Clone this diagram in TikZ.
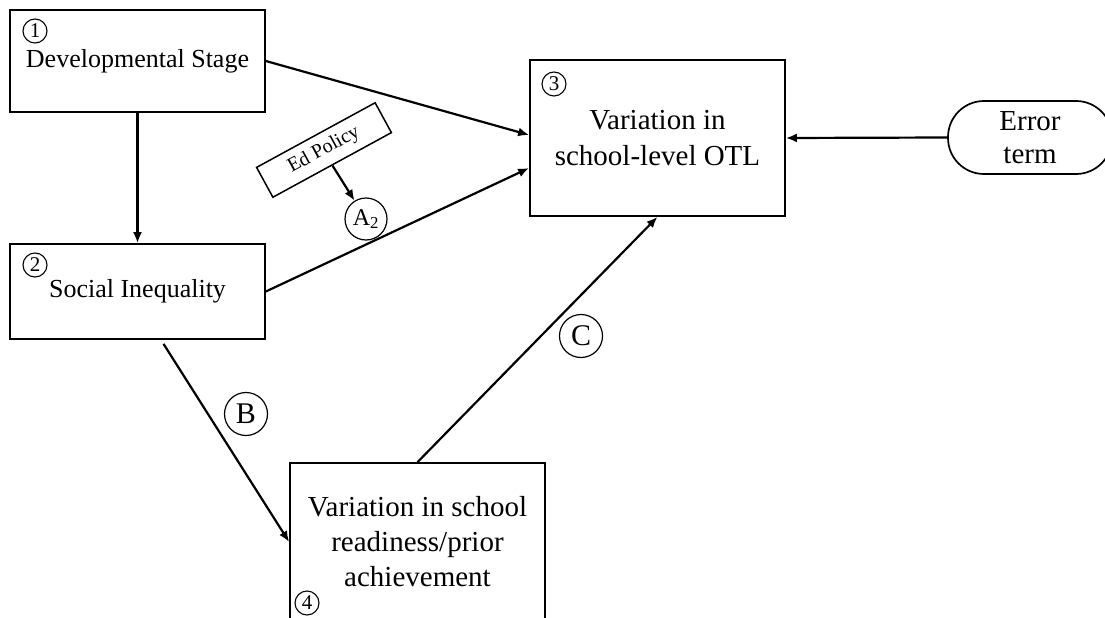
\documentclass[tikz,border=0pt]{standalone}
\usepackage{fontspec}
\setmainfont{Liberation Serif}
\usetikzlibrary{arrows.meta,calc}
\begin{document}
\begin{tikzpicture}[x=1pt,y=-1pt,
 box/.style={draw,line width=1.7pt,minimum width=255pt,inner sep=0pt,align=center},
 conn/.style={line width=2.2pt,-{Latex[length=11pt,width=9pt]}},
 num/.style={circle,draw,line width=1.1pt,minimum size=24pt,inner sep=0pt,font=\fontsize{21}{21}\selectfont},
 lab/.style={circle,draw,line width=1.2pt,minimum size=43pt,inner sep=0pt,font=\fontsize{30}{30}\selectfont}]
\useasboundingbox (0,0) rectangle (1105,618);
\node[box,minimum height=102pt,font=\fontsize{26}{30}\selectfont] (b1) at (137.5,61) {Developmental Stage};
\node[num] (n1) at (35,31) {1};
\node[box,minimum height=95pt,font=\fontsize{26}{30}\selectfont] (b2) at (137.5,291.5) {Social Inequality};
\node[num] (n2) at (35,265) {2};
\node[box,minimum height=156pt,font=\fontsize{29}{36}\selectfont] (b3) at (657.5,138) {Variation in\\school-level OTL};
\node[num] (n3) at (554,84) {3};
\node[box,minimum height=158pt,font=\fontsize{29}{35}\selectfont] (b4) at (417.5,542) {Variation in school\\readiness/prior\\achievement};
\node[num] (n4) at (307,603) {4};
\node[draw,line width=1.7pt,rounded corners=36pt,minimum width=164pt,minimum height=73pt,align=center,inner sep=0pt,font=\fontsize{29}{33}\selectfont] (err) at (1030,137.5) {Error\\term};
\node[draw,line width=1.5pt,minimum width=135pt,minimum height=34pt,rotate=28.6,font=\fontsize{20}{20}\selectfont] (ed) at (324,150) {Ed Policy};
\node[lab,minimum size=42pt,font=\fontsize{24}{24}\selectfont] (a2) at (366,219) {A\textsubscript{2}};
\node[lab] (lb) at (246,414) {B};
\node[lab] (lc) at (581,336) {C};
\draw[conn] (b1.east) -- ([yshift=3pt]b3.west);
\draw[conn] (b1.south) -- (b2.north);
\draw[conn] (b2.east) -- ([yshift=-30pt]b3.west);
\draw[conn] ([xshift=26pt,yshift=-4pt]b2.south) -- (b4.west);
\draw[conn] (b4.north) -- (b3.south);
\draw[conn] (err.west) -- (b3.east);
\draw[conn] (ed.south) -- (a2);
\end{tikzpicture}
\end{document}
